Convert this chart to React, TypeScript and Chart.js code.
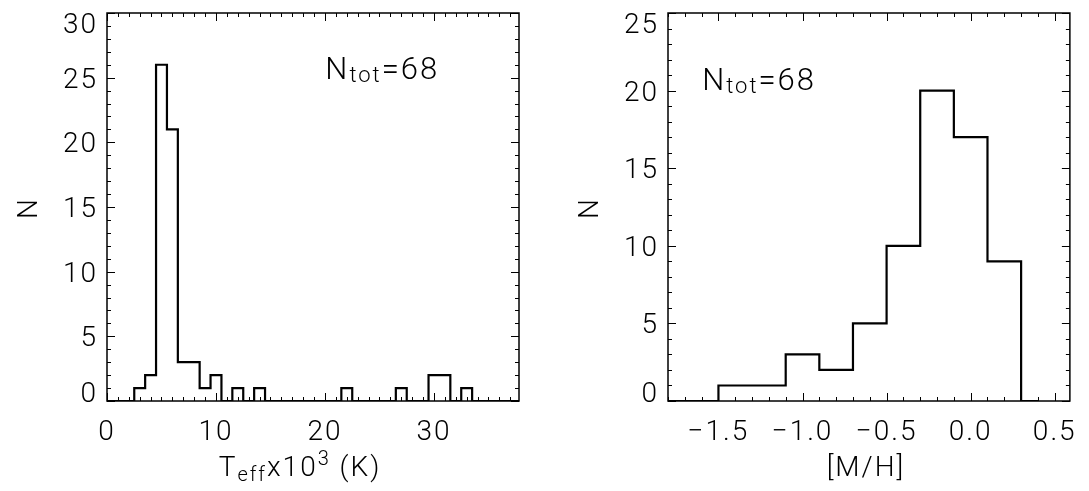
import React, { useEffect, useRef } from 'react';
import { Chart, registerables } from 'chart.js';

Chart.register(...registerables);

// ---------- data ----------
const teffCenters = [0, 1, 2, 3, 4, 5, 6, 7, 8, 9, 10, 11, 12, 13, 14, 15, 16, 17, 18, 19, 20, 21, 22, 23, 24, 25, 26, 27, 28, 29, 30, 31, 32, 33, 34, 35, 36, 37, 38];
const teffCounts = [0, 0, 0, 1, 2, 26, 21, 3, 3, 1, 2, 0, 1, 0, 1, 0, 0, 0, 0, 0, 0, 0, 1, 0, 0, 0, 0, 1, 0, 0, 2, 2, 0, 1, 0, 0, 0, 0, 0];
const mhCenters = [-1.8, -1.6, -1.4, -1.2, -1.0, -0.8, -0.6, -0.4, -0.2, 0.0, 0.2, 0.4];
const mhCounts = [0, 0, 1, 1, 3, 2, 5, 10, 20, 17, 9, 0];

const teffXTicks = [0, 10, 20, 30];
const teffYTicks = [0, 5, 10, 15, 20, 25, 30];
const mhXTicks = [-1.5, -1.0, -0.5, 0.0, 0.5];
const mhYTicks = [0, 5, 10, 15, 20, 25];
const nTotal = 68;

const FONT = 'Roboto';
const W = 1089;
const H = 491;

type Part = { t: string; size: number; dy: number };

function drawParts(ctx: CanvasRenderingContext2D, parts: Part[], x: number, baseline: number, center: boolean, spacing: number) {
  (ctx as any).letterSpacing = spacing + 'px';
  let total = 0;
  for (const p of parts) {
    ctx.font = `300 ${p.size}px ${FONT}`;
    total += ctx.measureText(p.t).width;
  }
  let cx = center ? x - total / 2 : x;
  ctx.textAlign = 'left';
  ctx.textBaseline = 'alphabetic';
  for (const p of parts) {
    ctx.font = `300 ${p.size}px ${FONT}`;
    ctx.fillText(p.t, cx, baseline + p.dy);
    cx += ctx.measureText(p.t).width;
  }
}

type PanelCfg = {
  xMinor: number;
  xMajor: number[];
  yMinor: number;
  yMajor: number[];
  xTitle: Part[];
  xTitleDx: number;
  annotFx: number;
  annotBaseline: number;
};

function makePlugin(cfg: PanelCfg) {
  return {
    id: 'idlFrame',
    beforeDraw(chart: any) {
      (chart.ctx as any).letterSpacing = '2px';
    },
    afterDraw(chart: any) {
      const ctx: CanvasRenderingContext2D = chart.ctx;
      const { left, right, top, bottom } = chart.chartArea;
      const xs = chart.scales.x;
      const ys = chart.scales.y;
      ctx.save();
      ctx.strokeStyle = '#000';
      ctx.fillStyle = '#000';
      // frame
      ctx.lineWidth = 1.5;
      ctx.strokeRect(left, top, right - left, bottom - top);
      // ticks
      ctx.lineWidth = 1;
      const isMajor = (v: number, arr: number[]) => arr.some((m) => Math.abs(m - v) < 1e-6);
      const i0 = Math.ceil(xs.min / cfg.xMinor - 1e-6);
      const i1 = Math.floor(xs.max / cfg.xMinor + 1e-6);
      ctx.beginPath();
      for (let i = i0; i <= i1; i++) {
        const v = i * cfg.xMinor;
        const px = Math.round(xs.getPixelForValue(v)) + 0.5;
        const len = isMajor(v, cfg.xMajor) ? 8 : 4;
        ctx.moveTo(px, bottom);
        ctx.lineTo(px, bottom - len);
        ctx.moveTo(px, top);
        ctx.lineTo(px, top + len);
      }
      const j0 = Math.ceil(ys.min / cfg.yMinor - 1e-6);
      const j1 = Math.floor(ys.max / cfg.yMinor + 1e-6);
      for (let j = j0; j <= j1; j++) {
        const v = j * cfg.yMinor;
        const py = Math.round(ys.getPixelForValue(v)) + 0.5;
        const len = isMajor(v, cfg.yMajor) ? 8 : 4;
        ctx.moveTo(left, py);
        ctx.lineTo(left + len, py);
        ctx.moveTo(right, py);
        ctx.lineTo(right - len, py);
      }
      ctx.stroke();

      // y tick labels (clamped inside the frame's vertical extent)
      (ctx as any).letterSpacing = '2px';
      ctx.font = `300 28px ${FONT}`;
      const capH = ctx.measureText('0').actualBoundingBoxAscent;
      ctx.textAlign = 'right';
      ctx.textBaseline = 'alphabetic';
      for (const t of ys.ticks) {
        const py = ys.getPixelForValue(t.value);
        let base = py + capH / 2;
        if (base > bottom + 1) base = bottom + 1;
        if (base - capH < top) base = top + capH;
        ctx.fillText(String(t.value), left - 9, base);
      }

      // y title
      ctx.save();
      (ctx as any).letterSpacing = '0px';
      ctx.translate(left - 77, (top + bottom) / 2 + 2);
      ctx.rotate(-Math.PI / 2);
      ctx.font = `300 28px ${FONT}`;
      ctx.textAlign = 'center';
      ctx.textBaseline = 'middle';
      ctx.fillText('N', 0, 0);
      ctx.restore();

      // x title
      drawParts(ctx, cfg.xTitle, (left + right) / 2 + cfg.xTitleDx, 476, true, 2);

      // annotation
      drawParts(
        ctx,
        [
          { t: 'N', size: 31, dy: 0 },
          { t: 'tot', size: 22, dy: 3 },
          { t: '=' + nTotal, size: 31, dy: 0 },
        ],
        left + cfg.annotFx * (right - left),
        cfg.annotBaseline,
        false,
        2
      );
      ctx.restore();
    },
  };
}

function buildChart(
  canvas: HTMLCanvasElement,
  centers: number[],
  counts: number[],
  xMin: number,
  xMax: number,
  yMax: number,
  xTicks: number[],
  yTicks: number[],
  yWidth: number,
  padRight: number,
  fmt: (v: number) => string,
  cfg: PanelCfg
) {
  const pts = centers.map((c, i) => ({ x: c, y: counts[i] }));
  return new Chart(canvas, {
    type: 'line',
    data: {
      datasets: [
        {
          data: pts,
          stepped: 'middle',
          borderColor: '#000',
          borderWidth: 2.2,
          pointRadius: 0,
          fill: false,
          tension: 0,
        } as any,
      ],
    },
    options: {
      animation: false,
      responsive: false,
      devicePixelRatio: 1,
      layout: { padding: { left: 0, right: padRight, top: 13, bottom: 0 } },
      plugins: { legend: { display: false }, tooltip: { enabled: false }, title: { display: false } },
      scales: {
        x: {
          type: 'linear',
          min: xMin,
          max: xMax,
          grid: { display: false, drawTicks: false },
          border: { display: false },
          afterBuildTicks: (s: any) => {
            s.ticks = xTicks.map((v) => ({ value: v }));
          },
          ticks: {
            includeBounds: false,
            autoSkip: false,
            maxRotation: 0,
            padding: 15,
            color: '#000',
            font: { family: FONT, size: 28, weight: 300 as any },
            callback: (v: any) => fmt(Number(v)),
          },
          afterFit: (s: any) => {
            s.height = H - 401;
          },
        },
        y: {
          type: 'linear',
          min: 0,
          max: yMax,
          grid: { display: false, drawTicks: false },
          border: { display: false },
          afterBuildTicks: (s: any) => {
            s.ticks = yTicks.map((v) => ({ value: v }));
          },
          ticks: { display: false, includeBounds: false },
          afterFit: (s: any) => {
            s.width = yWidth;
          },
        },
      },
    },
    plugins: [makePlugin(cfg)],
  });
}

export default function App() {
  const leftRef = useRef<HTMLCanvasElement>(null);
  const rightRef = useRef<HTMLCanvasElement>(null);

  useEffect(() => {
    const c1 = buildChart(
      leftRef.current!,
      teffCenters,
      teffCounts,
      0,
      37.8,
      30,
      teffXTicks,
      teffYTicks,
      107,
      545 - 519,
      (v) => String(v),
      {
        xMinor: 1,
        xMajor: teffXTicks,
        yMinor: 1,
        yMajor: teffYTicks,
        xTitle: [
          { t: 'T', size: 28, dy: 0 },
          { t: 'eff', size: 20, dy: 5 },
          { t: 'x10', size: 28, dy: 0 },
          { t: '3', size: 20, dy: -11 },
          { t: ' (K)', size: 28, dy: 0 },
        ],
        xTitleDx: -13,
        annotFx: 0.53,
        annotBaseline: 79,
      }
    );
    const c2 = buildChart(
      rightRef.current!,
      mhCenters,
      mhCounts,
      -1.8,
      0.59,
      25,
      mhXTicks,
      mhYTicks,
      668 - 545,
      W - 1079,
      (v) => (v < 0 ? '\u2212' + Math.abs(v).toFixed(1) : v.toFixed(1)),
      {
        xMinor: 0.1,
        xMajor: mhXTicks,
        yMinor: 1,
        yMajor: mhYTicks,
        xTitle: [{ t: '[M/H]', size: 28, dy: 0 }],
        xTitleDx: -3,
        annotFx: 0.085,
        annotBaseline: 90,
      }
    );
    return () => {
      c1.destroy();
      c2.destroy();
    };
  }, []);

  return (
    <div style={{ position: 'absolute', left: 0, top: 0, width: W, height: H, background: '#fff' }}>
      <canvas ref={leftRef} width={545} height={H} style={{ position: 'absolute', left: 0, top: 0, width: 545, height: H }} />
      <canvas ref={rightRef} width={W - 545} height={H} style={{ position: 'absolute', left: 545, top: 0, width: W - 545, height: H }} />
    </div>
  );
}
